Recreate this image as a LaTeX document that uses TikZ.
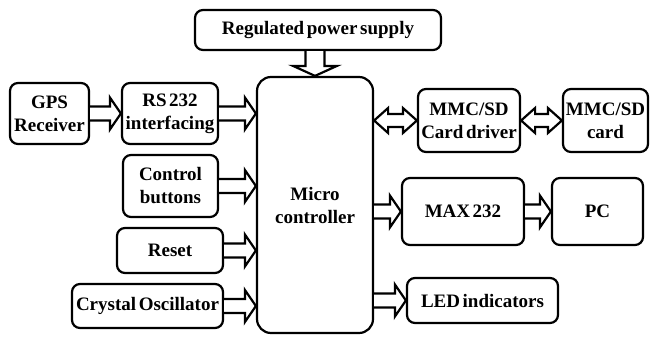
\documentclass[tikz,border=0pt]{standalone}
\usepackage{fontspec}
\setmainfont{Liberation Serif}[WordSpace=0.55]
\usetikzlibrary{calc}
\newcommand\harr[2]{\draw[barrow] let \p1=(#1), \p2=(#2) in (\x1,\y1+7pt) -- (\x2-11pt,\y1+7pt) -- (\x2-11pt,\y1+16pt) -- (\x2,\y1) -- (\x2-11pt,\y1-16pt) -- (\x2-11pt,\y1-7pt) -- (\x1,\y1-7pt);}
\newcommand\dharr[2]{\draw[barrow] let \p1=(#1), \p2=(#2) in (\x1,\y1) -- (\x1+14pt,\y1+12.5pt) -- (\x1+14pt,\y1+6.5pt) -- (\x2-14pt,\y1+6.5pt) -- (\x2-14pt,\y1+12.5pt) -- (\x2,\y1) -- (\x2-14pt,\y1-12.5pt) -- (\x2-14pt,\y1-6.5pt) -- (\x1+14pt,\y1-6.5pt) -- (\x1+14pt,\y1-12.5pt) -- cycle;}
\newcommand\varr[2]{\draw[barrow] let \p1=(#1), \p2=(#2) in (\x1+9.5pt,\y1) -- (\x1+9.5pt,\y2+10pt) -- (\x1+22pt,\y2+10pt) -- (\x1,\y2) -- (\x1-22pt,\y2+10pt) -- (\x1-9.5pt,\y2+10pt) -- (\x1-9.5pt,\y1);}
\begin{document}
\begin{tikzpicture}[x=1pt,y=-1pt,
  box/.style={draw,line width=2.2pt,rounded corners=8pt,align=center,inner sep=0pt,
    font=\fontsize{19}{23}\selectfont\bfseries},
  barrow/.style={draw,line width=2.2pt,line join=miter,fill=white}]
\useasboundingbox[fill=white] (0,0) rectangle (652,337);
\node[box,minimum width=79pt,minimum height=61pt] (gps) at (49.5,113.5) {GPS\\Receiver};
\node[box,minimum width=96pt,minimum height=61pt] (rs) at (170,113.5) {RS 232\\interfacing};
\node[box,minimum width=95pt,minimum height=62pt] (ctl) at (170.5,186) {Control\\buttons};
\node[box,minimum width=106pt,minimum height=45pt] (rst) at (170,250.5) {Reset};
\node[box,minimum width=151pt,minimum height=44pt] (xtal) at (147.5,306) {Crystal Oscillator};
\node[box,minimum width=246pt,minimum height=40pt] (pwr) at (318,30) {Regulated power supply};
\node[box,minimum width=116pt,minimum height=256pt,rounded corners=14pt] (mc) at (315,205) {Micro\\controller};
\node[box,minimum width=102pt,minimum height=63pt] (drv) at (469,120.5) {MMC/SD\\Card driver};
\node[box,minimum width=85pt,minimum height=63pt] (card) at (605.5,120.5) {MMC/SD\\card};
\node[box,minimum width=122pt,minimum height=67pt] (max) at (463,211.5) {MAX 232};
\node[box,minimum width=91pt,minimum height=67pt] (pc) at (597.5,211.5) {PC};
\node[box,minimum width=151pt,minimum height=45pt] (led) at (482.5,300.5) {LED indicators};
\harr{gps.east}{gps.east -| rs.west}
\harr{rs.east}{rs.east -| mc.west}
\harr{ctl.east}{ctl.east -| mc.west}
\harr{rst.east}{rst.east -| mc.west}
\harr{xtal.east}{xtal.east -| mc.west}
\varr{pwr.south -| mc.north}{mc.north}
\dharr{mc.east |- drv.west}{drv.west}
\dharr{drv.east}{card.west}
\harr{mc.east |- max.west}{max.west}
\harr{max.east}{pc.west}
\harr{mc.east |- led.west}{led.west}
\end{tikzpicture}
\end{document}
